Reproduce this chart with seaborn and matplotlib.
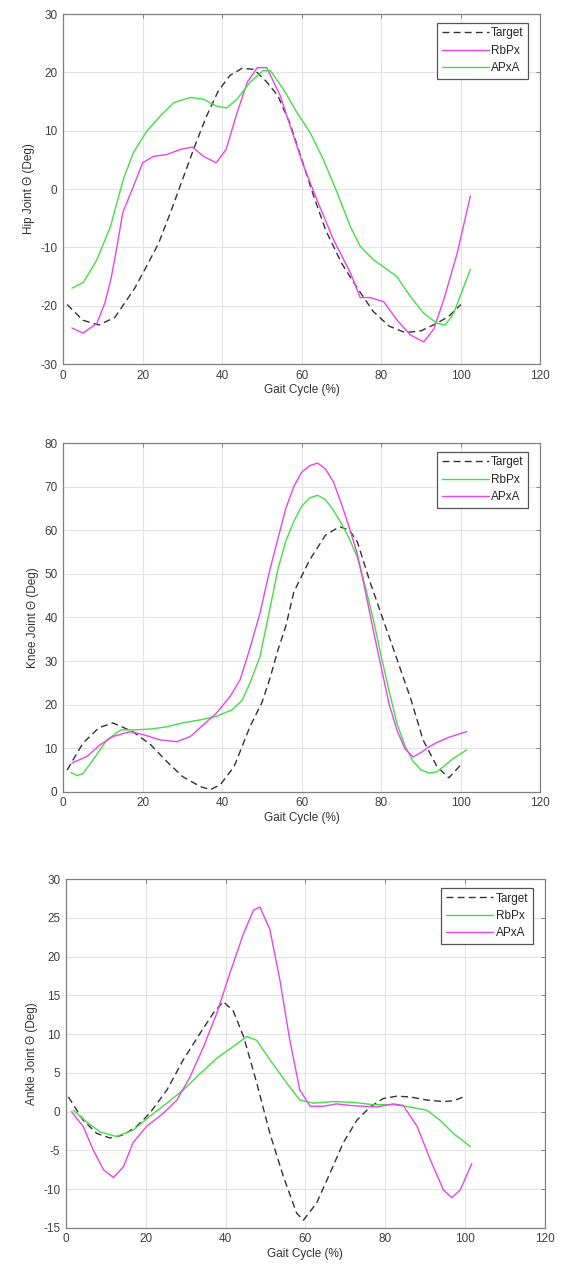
import numpy as np
import pandas as pd
import matplotlib
matplotlib.use("Agg")
import matplotlib.pyplot as plt
import seaborn as sns

# ---- data (gait cycle % vs joint angle in deg) ----

# hip joint
hip_target_x = [1, 5, 9, 13, 18, 21, 24, 27, 30, 33, 36, 39, 42, 45, 48, 51, 54, 57, 60, 63, 66, 70, 74, 78, 82, 86, 90, 94, 97, 100]
hip_target_y = [-19.8, -22.5, -23.3, -22, -17, -13.2, -9.3, -4, 1.6, 7.2, 12.4, 16.8, 19.5, 20.7, 20.5, 18.5, 16, 11.3, 5.1, -1.2, -7, -12.7, -17, -21, -23.5, -24.6, -24.3, -23, -21.8, -19.8]

hip_rbpx_x = [2.2, 5, 8.5, 10.5, 12, 13.5, 15, 17.7, 20, 22.7, 26, 29.5, 32.5, 35.3, 38.5, 41, 43.7, 46.3, 48.8, 51.2, 54.6, 57.1, 60.5, 63.8, 68, 72.2, 74.7, 77.2, 80.6, 83.9, 87.3, 90.7, 93.2, 95.7, 99.1, 102.4]
hip_rbpx_y = [-23.8, -24.7, -23, -19.5, -15.5, -10, -4, 0.5, 4.5, 5.6, 5.9, 6.8, 7.2, 5.6, 4.5, 6.8, 13, 18.3, 20.8, 20.8, 16, 10.8, 3.9, -1.8, -8.7, -14.3, -18.6, -18.6, -19.3, -22.4, -25, -26.2, -24, -19, -11, -1.2]

hip_apxa_x = [2.2, 5.1, 8.5, 11.9, 15.1, 17.7, 21, 24.4, 27.8, 32, 35.3, 38.6, 41.1, 43.7, 47, 50.3, 52.1, 55.4, 58.8, 62.1, 65.4, 68.9, 72.2, 74.7, 78, 81.5, 83.9, 87.3, 90.7, 94, 96.1, 98.2, 102.4]
hip_apxa_y = [-17, -16, -12.1, -6.4, 1.6, 6.3, 9.9, 12.5, 14.8, 15.7, 15.4, 14.2, 13.9, 15.4, 18.3, 20.3, 20.3, 17.1, 13.1, 9.7, 5.1, -0.6, -6.4, -9.8, -12.1, -13.8, -15, -18.4, -21.3, -23, -23.3, -21.3, -13.8]

# knee joint
knee_target_x = [1, 5, 9, 12.5, 17.5, 22, 26, 30, 34.5, 37, 39.5, 43, 47, 50, 52, 54, 56, 58, 62, 66, 69.5, 72, 74, 77, 80.5, 84, 87.5, 90.5, 94, 97, 100]
knee_target_y = [5, 11.2, 14.7, 15.8, 13.8, 10.8, 7, 3.5, 1.2, 0.5, 1.6, 5.8, 15, 20.5, 26, 32.5, 38, 45.8, 53.2, 58.9, 60.8, 60, 57.3, 48.6, 39.4, 30.3, 21.1, 11.9, 5.8, 3.2, 6.2]

knee_rbpx_x = [2, 3.5, 5, 7.5, 11, 14.5, 18, 22, 26, 30, 34.5, 38.5, 42.5, 45, 47, 49.5, 52, 54, 56, 58, 60, 62, 64, 66, 68, 70, 72, 74, 76, 78, 80, 82, 84, 86, 88, 90, 92, 94, 96, 98, 101.5]
knee_rbpx_y = [4.4, 3.7, 4.2, 7.3, 11.9, 14.2, 14.2, 14.4, 14.9, 15.8, 16.5, 17.3, 18.8, 21, 25, 31, 42, 51, 57.5, 62, 65.5, 67.4, 68, 67, 64.5, 61.5, 58, 53.7, 47, 39.5, 31, 23, 15.5, 10.5, 7, 5, 4.3, 4.6, 6, 7.6, 9.6]

knee_apxa_x = [2.2, 6, 9.3, 12.6, 16.8, 20.2, 24.4, 28.6, 32, 35.3, 38.6, 42, 44.5, 47, 49.5, 52, 54, 56, 58, 60, 62, 64, 66, 68, 70, 72, 74, 76, 78, 80, 82, 84, 86, 88, 90, 92, 94, 97, 101.5]
knee_apxa_y = [6.6, 8.1, 10.8, 12.7, 13.8, 13.1, 11.9, 11.5, 12.7, 15.4, 18.1, 21.9, 25.7, 33, 41, 51, 58, 65, 70, 73.3, 74.8, 75.4, 74, 71, 66, 60.5, 54.5, 46, 37, 28.5, 20, 14, 9.8, 8, 9, 10.3, 11.3, 12.5, 13.8]

# ankle joint
ankle_target_x = [0.6, 4.3, 7.7, 11, 14.4, 17.7, 21, 25.3, 29.4, 33.6, 36.9, 39.4, 41.9, 44.5, 47.8, 51.1, 54.5, 57.8, 59.5, 62.8, 66.2, 69.5, 72.9, 76.2, 79.5, 82.9, 86.2, 90.4, 94.6, 97.1, 99.6]
ankle_target_y = [1.9, -1.1, -2.8, -3.4, -3, -1.9, -0.2, 2.8, 6.7, 10.1, 12.7, 14.2, 13, 9.7, 3.7, -2.8, -8.4, -13.1, -14, -11.8, -7.9, -4, -1.1, 0.6, 1.7, 2, 1.9, 1.5, 1.3, 1.4, 1.9]

ankle_rbpx_x = [1.8, 5.1, 8.5, 12.6, 16.8, 21, 25.3, 29.4, 33.6, 37.8, 41.9, 45.3, 47.8, 51.1, 55.3, 58.6, 62, 67, 72, 77, 82, 86.2, 90.4, 93.7, 97.1, 101.3]
ankle_rbpx_y = [0.2, -1.3, -2.6, -3.2, -2.4, -0.6, 1.1, 2.8, 4.9, 6.9, 8.4, 9.7, 9.2, 6.7, 3.7, 1.5, 1.1, 1.3, 1.2, 0.9, 0.9, 0.6, 0.2, -1.1, -2.8, -4.5]

ankle_apxa_x = [1.4, 4.3, 6.8, 9.4, 11.9, 14.4, 16.8, 20.2, 24.4, 27.8, 31.1, 34.5, 37.8, 41.1, 44.5, 47, 48.6, 51.1, 53.6, 56.1, 58.6, 61.2, 64.5, 67.8, 71.2, 74.5, 77.8, 82, 84.5, 88, 91.3, 94.6, 96.7, 98.8, 101.7]
ankle_apxa_y = [0, -1.9, -4.9, -7.5, -8.5, -7.1, -4, -1.9, -0.2, 1.5, 4.5, 8.4, 12.7, 17.9, 23, 26, 26.4, 23.5, 17, 9.2, 2.8, 0.7, 0.7, 1, 0.8, 0.7, 0.6, 1, 0.8, -1.9, -6.2, -10.1, -11.1, -10.1, -6.7]

x_ticks = [0, 20, 40, 60, 80, 100, 120]

# colours similar to matlab output
col_target = "#333333"
col_magenta = "#e845e8"
col_green = "#45dd45"
dashed = (0, (5, 3))

sns.set_style("whitegrid")
plt.rcParams["font.family"] = ["Liberation Sans", "DejaVu Sans"]
plt.rcParams["axes.unicode_minus"] = False  # matlab style plain hyphen

fig = plt.figure(figsize=(5.64, 12.73), dpi=100)

# axes positions in figure fractions (left, bottom, width, height)
ax_hip = fig.add_axes([0.112, 0.714, 0.846, 0.275])
ax_knee = fig.add_axes([0.112, 0.378, 0.846, 0.274])
ax_ankle = fig.add_axes([0.117, 0.0354, 0.849, 0.274])


def draw_panel(ax, series, ylim, yticks, ylabel):
    # series is list of (x, y, colour, label, linestyle)
    for xs, ys, c, lab, ls in series:
        sns.lineplot(x=xs, y=ys, ax=ax, color=c, label=lab, linestyle=ls, linewidth=1.0)
    ax.set_xlim(0, 120)
    ax.set_ylim(*ylim)
    ax.set_xticks(x_ticks)
    ax.set_yticks(yticks)
    ax.set_xlabel("Gait Cycle (%)", fontsize=8.5, color="#333333", labelpad=2)
    ax.set_ylabel(ylabel, fontsize=8.5, color="#333333", labelpad=4)
    ax.grid(True, color="#e3e3e3", linewidth=0.8)
    for sp in ax.spines.values():
        sp.set_color("#808080")
        sp.set_linewidth(0.9)
    ax.tick_params(direction="in", length=3, width=0.7, top=True, right=True,
                   labelsize=8.5, colors="#808080", labelcolor="#404040", pad=4)
    leg = ax.legend(loc="upper right", bbox_to_anchor=(0.975, 0.975), fontsize=8.5,
                    handlelength=4.0, handletextpad=0.2, labelspacing=0.45,
                    borderpad=0.4, fancybox=False, framealpha=1, borderaxespad=0)
    leg.get_frame().set_edgecolor("#555555")
    leg.get_frame().set_linewidth(0.9)


draw_panel(ax_hip,
           [(hip_target_x, hip_target_y, col_target, "Target", dashed),
            (hip_rbpx_x, hip_rbpx_y, col_magenta, "RbPx", "-"),
            (hip_apxa_x, hip_apxa_y, col_green, "APxA", "-")],
           (-30, 30), list(range(-30, 31, 10)), "Hip Joint Θ (Deg)")

draw_panel(ax_knee,
           [(knee_target_x, knee_target_y, col_target, "Target", dashed),
            (knee_rbpx_x, knee_rbpx_y, col_green, "RbPx", "-"),
            (knee_apxa_x, knee_apxa_y, col_magenta, "APxA", "-")],
           (0, 80), list(range(0, 81, 10)), "Knee Joint Θ (Deg)")

draw_panel(ax_ankle,
           [(ankle_target_x, ankle_target_y, col_target, "Target", dashed),
            (ankle_rbpx_x, ankle_rbpx_y, col_green, "RbPx", "-"),
            (ankle_apxa_x, ankle_apxa_y, col_magenta, "APxA", "-")],
           (-15, 30), list(range(-15, 31, 5)), "Ankle Joint Θ (Deg)")

fig.savefig("out.png", dpi=100, facecolor="white")
